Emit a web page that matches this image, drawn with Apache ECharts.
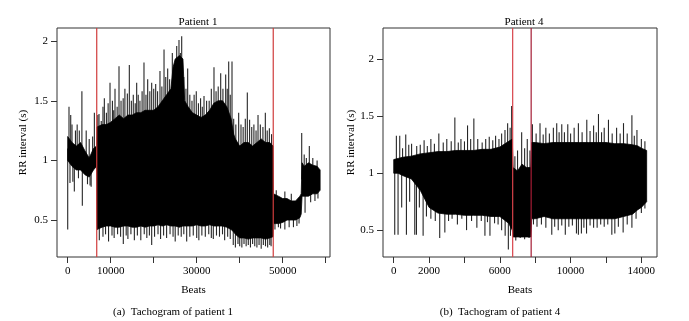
<!DOCTYPE html>
<html>
<head>
<meta charset="utf-8">
<style>
    html, body { margin: 0; padding: 0; background: #fff; }
    /* chart size */
    #chart { width: 689px; height: 321px; }
</style>
<script src="https://cdn.jsdelivr.net/npm/echarts@6/dist/echarts.min.js"></script>
</head>
<body>
<div id="chart"></div>
<script>
// ---------- Patient 1: dense core band (beats, upper / lower edge in s) ----------
var p1CoreBeats = [0, 1000, 2000, 3000, 4000, 5000, 6000, 6700,
    6800, 8000, 9000, 10000, 11000, 12000, 13000, 14000, 15000, 16000, 17000, 18000, 19000, 20000, 21000, 22000, 23000, 24000,
    24500, 25000, 26000, 26800, 27200,
    28000, 29000, 30000, 31000, 32000, 33000, 34000, 35000, 36000, 37000, 38000,
    38600, 39000, 40000, 41000, 42000, 43000, 44000, 45000, 46000, 47000, 47750,
    47850, 49000, 50000, 51000, 52000, 53000, 54000, 54300,
    54500, 55000, 56000, 57000, 58000, 58700];
var p1CoreHi = [1.2, 1.15, 1.12, 1.15, 1.08, 1.02, 1.1, 1.12,
    1.28, 1.3, 1.3, 1.32, 1.35, 1.38, 1.35, 1.38, 1.38, 1.4, 1.4, 1.42, 1.42, 1.42, 1.45, 1.5, 1.55, 1.6,
    1.78, 1.85, 1.88, 1.85, 1.5,
    1.45, 1.4, 1.38, 1.36, 1.38, 1.42, 1.48, 1.5, 1.5, 1.45, 1.35,
    1.22, 1.18, 1.12, 1.15, 1.15, 1.12, 1.15, 1.18, 1.15, 1.15, 1.12,
    0.72, 0.7, 0.68, 0.68, 0.66, 0.66, 0.7, 0.72,
    0.98, 0.95, 0.98, 0.96, 0.95, 0.92];
var p1CoreLo = [1.0, 0.95, 0.92, 0.92, 0.88, 0.86, 0.92, 0.95,
    0.42, 0.44, 0.45, 0.45, 0.44, 0.44, 0.45, 0.45, 0.44, 0.44, 0.45, 0.44, 0.45, 0.45, 0.46, 0.45, 0.46, 0.45,
    0.45, 0.45, 0.44, 0.45, 0.45,
    0.45, 0.45, 0.46, 0.45, 0.45, 0.46, 0.45, 0.45, 0.45, 0.44, 0.42,
    0.4, 0.38, 0.35, 0.35, 0.34, 0.35, 0.35, 0.35, 0.34, 0.35, 0.36,
    0.47, 0.47, 0.48, 0.5, 0.5, 0.5, 0.52, 0.55,
    0.7, 0.7, 0.7, 0.72, 0.72, 0.75];
// single beats reaching above the band
var p1UpBeats = [300, 700, 1000, 1800, 2200, 2700, 3300, 4300, 5000, 5800, 6200,
    7000, 7280, 7800, 8200, 8520, 9000, 9400, 9840, 10400, 10700, 11000, 11500, 11930, 12400, 12900, 13300,
    13870, 14330, 14800, 15250, 15700, 16040, 16400, 16800, 17300, 17740, 18200, 18600, 19100, 19530, 20000,
    20460, 20900, 21460, 21900, 22400, 22800, 23250, 23700, 24330, 24800, 25350, 25880, 26200, 26510, 27000,
    27500, 27900, 28400, 28900, 29400, 29900, 30400, 30900, 31300, 31700, 32300, 32900, 33400, 34020, 34500,
    35000, 35580, 36100, 36740, 37100, 37440, 37800, 38210, 38600, 39100, 39760, 40300, 40800, 41300, 41770,
    42300, 42800, 43300, 43800, 44260, 44800, 45400, 45960, 46400, 46900, 47400,
    48500, 50500, 52000, 54420, 55000, 55500, 56190, 57000, 58000];
var p1UpVals = [1.45, 1.38, 1.3, 1.25, 1.3, 1.25, 1.58, 1.25, 1.18, 1.2, 1.4,
    1.38, 1.39, 1.33, 1.45, 1.52, 1.4, 1.48, 1.65, 1.5, 1.42, 1.6, 1.45, 1.79, 1.5, 1.52, 1.6,
    1.56, 1.8, 1.5, 1.55, 1.48, 1.65, 1.55, 1.5, 1.58, 1.82, 1.55, 1.68, 1.58, 1.65, 1.6,
    1.64, 1.58, 1.75, 1.62, 1.93, 1.7, 1.77, 1.68, 1.9, 1.8, 1.96, 2.01, 1.9, 2.04, 1.7,
    1.6, 1.77, 1.55, 1.5, 1.55, 1.58, 1.48, 1.52, 1.45, 1.54, 1.5, 1.5, 1.6, 1.78, 1.58,
    1.62, 1.73, 1.6, 1.72, 1.6, 1.83, 1.55, 1.83, 1.35, 1.3, 1.4, 1.3, 1.28, 1.35, 1.57,
    1.34, 1.28, 1.3, 1.25, 1.38, 1.3, 1.28, 1.4, 1.25, 1.27, 1.22,
    0.75, 0.74, 0.72, 1.23, 1.05, 1.02, 1.12, 1.02, 1.0];
// single beats reaching below the band
var p1DownBeats = [0, 530, 1200, 1540, 2500, 3400, 4600, 5200, 5450,
    7350, 8200, 8800, 9500, 10300, 10800, 11600, 12300, 12930, 13600, 14000, 14700, 15500, 16200, 17000,
    17800, 18400, 19000, 19530, 20200, 21000, 21600, 22300, 23000, 23800, 24500, 25000, 25700, 26400, 27000,
    27670, 28400, 29200, 30000, 30500, 31200, 32000, 32800, 33400, 33860, 34600, 35300, 36000, 36500, 37200,
    37800, 38500, 39000, 39600, 40000, 40500, 41000, 41500, 42000, 42500, 43000, 43500, 44000, 44500, 45000,
    45500, 46000, 46500, 47000, 47300,
    48200, 49000, 49500, 50500, 51500, 52500, 53300, 53800, 55200, 56500, 57500, 58200];
var p1DownVals = [0.42, 0.81, 0.82, 0.74, 0.85, 0.62, 0.8, 0.79, 0.78,
    0.33, 0.36, 0.38, 0.32, 0.37, 0.35, 0.38, 0.36, 0.3, 0.37, 0.34, 0.38, 0.33, 0.37, 0.33,
    0.38, 0.35, 0.37, 0.29, 0.36, 0.38, 0.34, 0.37, 0.35, 0.38, 0.36, 0.32, 0.37, 0.36, 0.38,
    0.32, 0.36, 0.37, 0.35, 0.33, 0.37, 0.36, 0.38, 0.35, 0.34, 0.37, 0.36, 0.38, 0.33, 0.36,
    0.34, 0.29, 0.27, 0.3, 0.28, 0.27, 0.3, 0.28, 0.29, 0.27, 0.3, 0.28, 0.27, 0.29, 0.26,
    0.29, 0.28, 0.27, 0.29, 0.28,
    0.42, 0.44, 0.43, 0.42, 0.44, 0.44, 0.45, 0.47, 0.56, 0.65, 0.66, 0.68];
var p1Marks = [6750, 47800];
var p1MarkColors = ['#d03c3c', '#d03c3c'];

// ---------- Patient 4 ----------
var p4CoreBeats = [0, 250, 500, 1000, 1500, 2000, 2500, 3000, 3500, 4000, 4500, 5000, 5500, 6000, 6500, 6700,
    6750, 7000, 7250, 7500, 7750, 7800, 8000, 8500, 9000, 9500, 10000, 10500, 11000, 11500, 12000, 12500,
    13000, 13500, 13800, 14000, 14300];
var p4CoreHi = [1.12, 1.13, 1.14, 1.15, 1.17, 1.18, 1.19, 1.19, 1.2, 1.2, 1.2, 1.21, 1.21, 1.23, 1.28, 1.3,
    1.05, 1.02, 1.08, 1.05, 1.05, 1.27, 1.27, 1.26, 1.27, 1.27, 1.27, 1.27, 1.27, 1.27, 1.27, 1.26,
    1.26, 1.25, 1.24, 1.22, 1.2];
var p4CoreLo = [1.0, 1.0, 0.98, 0.95, 0.85, 0.7, 0.65, 0.64, 0.64, 0.63, 0.63, 0.63, 0.62, 0.62, 0.56, 0.5,
    0.44, 0.44, 0.44, 0.44, 0.44, 0.6, 0.6, 0.62, 0.6, 0.6, 0.6, 0.6, 0.6, 0.6, 0.6, 0.6,
    0.62, 0.64, 0.68, 0.7, 0.75];
var p4UpBeats = [150, 340, 500, 680, 850, 1010, 1300, 1500, 1718, 1900, 2100, 2300, 2550, 2800, 3000, 3250,
    3456, 3650, 3800, 4000, 4173, 4350, 4530, 4750, 5000, 5200, 5400, 5600, 5760, 5950, 6100, 6290, 6440,
    6580, 6667, 6850, 7000, 7233, 7400, 7550, 7700, 7840, 8050, 8270, 8450, 8600, 8800, 9025, 9215, 9350,
    9500, 9650, 9840, 10000, 10200, 10440, 10650, 10915, 11100, 11300, 11450, 11575, 11750, 11900, 12140,
    12350, 12600, 12800, 12990, 13200, 13465, 13600, 13750, 14000, 14200];
var p4UpVals = [1.33, 1.33, 1.22, 1.34, 1.25, 1.26, 1.24, 1.25, 1.29, 1.24, 1.3, 1.26, 1.35, 1.27, 1.3, 1.28,
    1.49, 1.27, 1.3, 1.28, 1.42, 1.3, 1.48, 1.3, 1.27, 1.3, 1.32, 1.29, 1.33, 1.3, 1.35, 1.38, 1.44,
    1.4, 1.59, 1.15, 1.2, 1.36, 1.22, 1.3, 1.2, 1.43, 1.35, 1.44, 1.34, 1.4, 1.35, 1.4, 1.44, 1.36,
    1.43, 1.36, 1.43, 1.35, 1.4, 1.44, 1.36, 1.47, 1.37, 1.42, 1.36, 1.52, 1.36, 1.4, 1.47,
    1.35, 1.4, 1.35, 1.44, 1.35, 1.51, 1.33, 1.38, 1.3, 1.28];
var p4DownBeats = [57, 245, 450, 718, 900, 1190, 1285, 1450, 1662, 1850, 2100, 2350, 2600, 2890, 3100, 3300,
    3600, 3850, 4117, 4400, 4700, 4950, 5156, 5300, 5440, 5700, 5900, 6100, 6300, 6480, 6600, 6900, 7150,
    7400, 7650, 7900, 8100, 8350, 8600, 8935, 9100, 9300, 9500, 9700, 9900, 10100, 10330, 10440, 10610,
    10750, 10900, 11100, 11300, 11500, 11700, 11900, 12100, 12330, 12500, 12700, 12970, 13200, 13465,
    13700, 14000, 14200];
var p4DownVals = [0.46, 0.46, 0.7, 0.46, 0.75, 0.46, 0.46, 0.7, 0.45, 0.62, 0.6, 0.58, 0.43, 0.48, 0.58, 0.6,
    0.55, 0.6, 0.5, 0.58, 0.52, 0.58, 0.45, 0.57, 0.45, 0.56, 0.55, 0.5, 0.45, 0.33, 0.45, 0.41, 0.43,
    0.42, 0.43, 0.55, 0.53, 0.55, 0.52, 0.46, 0.53, 0.5, 0.54, 0.46, 0.53, 0.54, 0.47, 0.46, 0.47,
    0.52, 0.47, 0.54, 0.52, 0.52, 0.55, 0.53, 0.55, 0.46, 0.47, 0.53, 0.48, 0.55, 0.52,
    0.6, 0.65, 0.69];
var p4Marks = [6725, 7770];
var p4MarkColors = ['#d8424a', '#a41c34'];

// axis ticks / labels
var p1XTicks = [0, 10000, 20000, 30000, 40000, 50000, 60000];
var p1XLabels = [0, 10000, 30000, 50000];
var p4XTicks = [0, 2000, 4000, 6000, 8000, 10000, 12000, 14000];
var p4XLabels = [0, 2000, 6000, 10000, 14000];
var yTicks = [0.5, 1, 1.5, 2];

var FONT = '"Liberation Serif", "DejaVu Serif", serif';

// [beat, base, value] for a spike; base = middle of the nearest core sample
function spikeRows(beats, vals, coreBeats, hi, lo) {
    var rows = [];
    for (var i = 0; i < beats.length; i++) {
        var k = 0;
        for (var j = 1; j < coreBeats.length; j++) {
            if (Math.abs(coreBeats[j] - beats[i]) < Math.abs(coreBeats[k] - beats[i])) k = j;
        }
        rows.push([beats[i], (hi[k] + lo[k]) / 2, vals[i]]);
    }
    return rows;
}

function coreSeries(idx, beats, hi, lo) {
    var rows = beats.map(function (b, i) { return [b, lo[i], hi[i]]; });
    return {
        type: 'custom',
        xAxisIndex: idx,
        yAxisIndex: idx,
        silent: true,
        data: rows,
        encode: { x: 0, y: [1, 2] },
        renderItem: function (params, api) {
            if (params.dataIndex !== 0) return null;
            var pts = [];
            for (var i = 0; i < rows.length; i++) pts.push(api.coord([rows[i][0], rows[i][2]]));
            for (var i = rows.length - 1; i >= 0; i--) pts.push(api.coord([rows[i][0], rows[i][1]]));
            return {
                type: 'polygon',
                shape: { points: pts },
                style: { fill: '#000', stroke: '#000', lineWidth: 0.8 }
            };
        },
        z: 2
    };
}

function spikeSeries(idx, rows) {
    return {
        type: 'custom',
        xAxisIndex: idx,
        yAxisIndex: idx,
        silent: true,
        data: rows,
        encode: { x: 0, y: [1, 2] },
        renderItem: function (params, api) {
            var a = api.coord([api.value(0), api.value(1)]);
            var b = api.coord([api.value(0), api.value(2)]);
            return {
                type: 'line',
                shape: { x1: a[0], y1: a[1], x2: b[0], y2: b[1] },
                style: { stroke: '#262626', lineWidth: 1.1 }
            };
        },
        z: 1
    };
}

// vertical change-point lines, full plot height
function markSeries(idx, marks, colors, ymin, ymax) {
    return {
        type: 'custom',
        xAxisIndex: idx,
        yAxisIndex: idx,
        silent: true,
        data: marks.map(function (m) { return [m, ymin, ymax]; }),
        encode: { x: 0, y: [1, 2] },
        renderItem: function (params, api) {
            var a = api.coord([api.value(0), api.value(1)]);
            var b = api.coord([api.value(0), api.value(2)]);
            return {
                type: 'line',
                shape: { x1: a[0], y1: a[1], x2: b[0], y2: b[1] },
                style: { stroke: colors[params.dataIndex], lineWidth: 1.2 }
            };
        },
        z: 5
    };
}

function xAxis(idx, min, max, ticks, labels) {
    return {
        type: 'value', gridIndex: idx, min: min, max: max,
        name: 'Beats', nameLocation: 'middle', nameGap: 28,
        nameTextStyle: { fontFamily: FONT, fontSize: 11, color: '#000' },
        splitLine: { show: false },
        axisLine: { show: false, onZero: false },
        axisTick: { show: true, length: 6, customValues: ticks, lineStyle: { color: '#333' } },
        axisLabel: { customValues: labels, margin: 9, fontFamily: FONT, fontSize: 11, color: '#000',
            formatter: function (v) { return String(v); } }
    };
}

function yAxis(idx, min, max, gap) {
    return {
        type: 'value', gridIndex: idx, min: min, max: max,
        name: 'RR interval (s)', nameLocation: 'middle', nameGap: gap, nameRotate: 90,
        nameTextStyle: { fontFamily: FONT, fontSize: 11, color: '#000' },
        splitLine: { show: false },
        axisLine: { show: false, onZero: false },
        axisTick: { show: true, length: 6, customValues: yTicks, lineStyle: { color: '#333' } },
        axisLabel: { customValues: yTicks, margin: 9, fontFamily: FONT, fontSize: 11, color: '#000',
            formatter: function (v) { return String(v); } }
    };
}

var chart = echarts.init(document.getElementById('chart'));
var option = {
    animation: false,
    backgroundColor: '#fff',
    title: [
        { text: 'Patient 1', left: 193, top: 12, textAlign: 'center',
          textStyle: { fontFamily: FONT, fontSize: 11, fontWeight: 'normal', color: '#000' } },
        { text: 'Patient 4', left: 519, top: 12, textAlign: 'center',
          textStyle: { fontFamily: FONT, fontSize: 11, fontWeight: 'normal', color: '#000' } }
    ],
    grid: [
        { left: 57, right: 359, top: 28, bottom: 64, show: true, borderColor: '#333', borderWidth: 1 },
        { left: 383, right: 32, top: 28, bottom: 64, show: true, borderColor: '#333', borderWidth: 1 }
    ],
    xAxis: [
        xAxis(0, -2490, 61000, p1XTicks, p1XLabels),
        xAxis(1, -606, 14884, p4XTicks, p4XLabels)
    ],
    yAxis: [
        yAxis(0, 0.19, 2.11, 28),
        yAxis(1, 0.264, 2.276, 26)
    ],
    series: [
        spikeSeries(0, spikeRows(p1UpBeats, p1UpVals, p1CoreBeats, p1CoreHi, p1CoreLo)),
        spikeSeries(0, spikeRows(p1DownBeats, p1DownVals, p1CoreBeats, p1CoreHi, p1CoreLo)),
        coreSeries(0, p1CoreBeats, p1CoreHi, p1CoreLo),
        markSeries(0, p1Marks, p1MarkColors, 0.19, 2.11),
        spikeSeries(1, spikeRows(p4UpBeats, p4UpVals, p4CoreBeats, p4CoreHi, p4CoreLo)),
        spikeSeries(1, spikeRows(p4DownBeats, p4DownVals, p4CoreBeats, p4CoreHi, p4CoreLo)),
        coreSeries(1, p4CoreBeats, p4CoreHi, p4CoreLo),
        markSeries(1, p4Marks, p4MarkColors, 0.264, 2.276)
    ],
    graphic: [
        { type: 'text', x: 173, y: 312, style: { text: '(a)  Tachogram of patient 1', fontFamily: FONT,
            fontSize: 11, fill: '#000', textAlign: 'center', textVerticalAlign: 'middle' } },
        { type: 'text', x: 500, y: 312, style: { text: '(b)  Tachogram of patient 4', fontFamily: FONT,
            fontSize: 11, fill: '#000', textAlign: 'center', textVerticalAlign: 'middle' } }
    ]
};
chart.setOption(option);
</script>
</body>
</html>
